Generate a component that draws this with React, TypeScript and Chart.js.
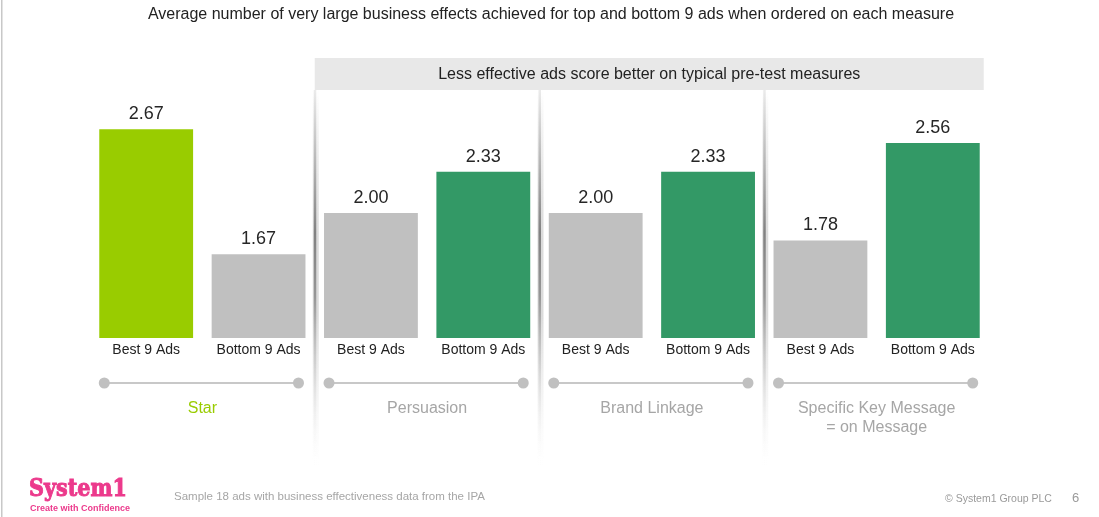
import React, { useEffect, useRef } from "react";
import { Chart, registerables } from "chart.js";

Chart.register(...registerables);

const categories = ["Best 9 Ads", "Bottom 9 Ads", "Best 9 Ads", "Bottom 9 Ads", "Best 9 Ads", "Bottom 9 Ads", "Best 9 Ads", "Bottom 9 Ads"];
const values = [2.67, 1.67, 2.0, 2.33, 2.0, 2.33, 1.78, 2.56];
const barColors = ["#99CC00", "#C0C0C0", "#C0C0C0", "#339966", "#C0C0C0", "#339966", "#C0C0C0", "#339966"];
const groupLabels: string[][] = [["Star"], ["Persuasion"], ["Brand Linkage"], ["Specific Key Message", "= on Message"]];
const groupColors = ["#99CC00", "#A6A6A6", "#A6A6A6", "#A6A6A6"];
const titleText = "Average number of very large business effects achieved for top and bottom 9 ads when ordered on each measure";
const headerText = "Less effective ads score better on typical pre-test measures";
const sampleText = "Sample 18 ads with business effectiveness data from the IPA";
const copyrightText = "© System1 Group PLC";
const pageNumber = "6";

const FONT = "'Liberation Sans', Arial, sans-serif";

const decorPlugin = {
  id: "decor",
  beforeDraw(chart: any) {
    const ctx = chart.ctx;
    const meta = chart.getDatasetMeta(0);
    const bars = meta.data;
    const xs = chart.scales.x;
    ctx.save();
    // left slide border
    ctx.fillStyle = "#c8c8c8";
    ctx.fillRect(1, 0, 1.5, chart.height);

    // title
    ctx.fillStyle = "#222";
    ctx.font = `16px ${FONT}`;
    ctx.textAlign = "center";
    ctx.textBaseline = "middle";
    ctx.fillText(titleText, 551, 14.5);

    // header box
    const sep1 = (xs.getPixelForValue(1) + xs.getPixelForValue(2)) / 2;
    const lastBar = bars[bars.length - 1];
    const boxRight = lastBar.x + lastBar.width / 2 + 4;
    ctx.fillStyle = "#E8E8E8";
    ctx.fillRect(sep1, 58, boxRight - sep1, 32);
    ctx.fillStyle = "#222";
    ctx.font = `16px ${FONT}`;
    ctx.fillText(headerText, (sep1 + boxRight) / 2, 74.5);

    // separators
    for (let g = 1; g < 4; g++) {
      const sx = (xs.getPixelForValue(2 * g - 1) + xs.getPixelForValue(2 * g)) / 2;
      const top = 90, bot = 465;
      const wide = ctx.createLinearGradient(0, top, 0, bot);
      wide.addColorStop(0, "rgba(200,200,200,0)");
      wide.addColorStop(0.4, "rgba(215,215,215,0.9)");
      wide.addColorStop(0.6, "rgba(215,215,215,0.9)");
      wide.addColorStop(1, "rgba(240,240,240,0)");
      ctx.fillStyle = wide;
      ctx.fillRect(sx - 2, top, 6, bot - top);
      const g2 = ctx.createLinearGradient(0, top, 0, bot);
      g2.addColorStop(0, "rgba(235,235,235,1)");
      g2.addColorStop(0.38, "rgba(130,130,130,1)");
      g2.addColorStop(0.55, "rgba(150,150,150,1)");
      g2.addColorStop(1, "rgba(255,255,255,0)");
      ctx.fillStyle = g2;
      ctx.fillRect(sx - 1, top, 2.5, bot - top);
    }
    ctx.restore();
  },
  afterDraw(chart: any) {
    const ctx = chart.ctx;
    const meta = chart.getDatasetMeta(0);
    const bars = meta.data;
    ctx.save();
    // value labels
    ctx.fillStyle = "#262626";
    ctx.font = `18px ${FONT}`;
    ctx.textAlign = "center";
    ctx.textBaseline = "middle";
    bars.forEach((b: any, i: number) => {
      ctx.fillText(values[i].toFixed(2), b.x, b.y - 15);
    });

    // group lines & labels
    for (let g = 0; g < 4; g++) {
      const b1 = bars[2 * g];
      const b2 = bars[2 * g + 1];
      const x1 = b1.x - b1.width / 2 + 5;
      const x2 = b2.x + b2.width / 2 - 7;
      const y = 383;
      ctx.strokeStyle = "#C8C8C8";
      ctx.lineWidth = 2;
      ctx.beginPath();
      ctx.moveTo(x1, y);
      ctx.lineTo(x2, y);
      ctx.stroke();
      ctx.fillStyle = "#C0C0C0";
      [x1, x2].forEach((x) => {
        ctx.beginPath();
        ctx.arc(x, y, 5.5, 0, Math.PI * 2);
        ctx.fill();
      });
      ctx.fillStyle = groupColors[g];
      ctx.font = `16px ${FONT}`;
      ctx.textAlign = "center";
      ctx.textBaseline = "middle";
      const cx = (b1.x + b2.x) / 2;
      groupLabels[g].forEach((line, li) => {
        ctx.fillText(line, cx, 408.5 + li * 19.5);
      });
    }

    // footer
    ctx.fillStyle = "#EC3A8C";
    ctx.strokeStyle = "#EC3A8C";
    ctx.lineWidth = 1;
    ctx.textAlign = "left";
    ctx.textBaseline = "alphabetic";
    ctx.font = `bold 25px 'DejaVu Serif', 'Liberation Serif', serif`;
    ctx.save();
    ctx.translate(29, 496);
    ctx.scale(0.83, 1);
    ctx.fillText("System1", 0, 0);
    ctx.strokeText("System1", 0, 0);
    ctx.restore();
    ctx.font = `bold 9px ${FONT}`;
    ctx.fillText("Create with Confidence", 30, 511);

    ctx.fillStyle = "#A6A6A6";
    ctx.font = `11.5px ${FONT}`;
    ctx.textBaseline = "middle";
    ctx.fillText(sampleText, 174, 497);
    ctx.fillStyle = "#9a9a9a";
    ctx.font = `10.5px ${FONT}`;
    ctx.fillText(copyrightText, 945, 499);
    ctx.font = `13px ${FONT}`;
    ctx.fillText(pageNumber, 1072, 498);
    ctx.restore();
  },
};

export default function App() {
  const canvasRef = useRef<HTMLCanvasElement | null>(null);
  useEffect(() => {
    document.body.style.margin = "0";
    const canvas = canvasRef.current!;
    const chart = new Chart(canvas, {
      type: "bar",
      data: {
        labels: categories,
        datasets: [
          {
            data: values,
            backgroundColor: barColors,
            borderWidth: 0,
            barPercentage: 0.835,
            categoryPercentage: 1,
          },
        ],
      },
      options: {
        responsive: false,
        animation: false,
        devicePixelRatio: 1,
        layout: { padding: { left: 90, right: 110, top: 88, bottom: 149 } },
        plugins: {
          legend: { display: false },
          tooltip: { enabled: false },
          title: { display: false },
        },
        scales: {
          y: { display: false, min: 1, max: 3 },
          x: {
            grid: { display: false, drawTicks: false },
            border: { display: false },
            ticks: {
              color: "#222",
              font: { family: FONT, size: 14 },
              padding: 4,
              maxRotation: 0,
              autoSkip: false,
            },
            afterFit: (scale: any) => {
              scale.height = 30;
            },
          },
        },
      },
      plugins: [decorPlugin],
    });
    return () => chart.destroy();
  }, []);
  return (
    <div style={{ position: "absolute", left: 0, top: 0, width: 1099, height: 517, background: "#fff" }}>
      <canvas ref={canvasRef} width={1099} height={517} style={{ display: "block" }} />
    </div>
  );
}
